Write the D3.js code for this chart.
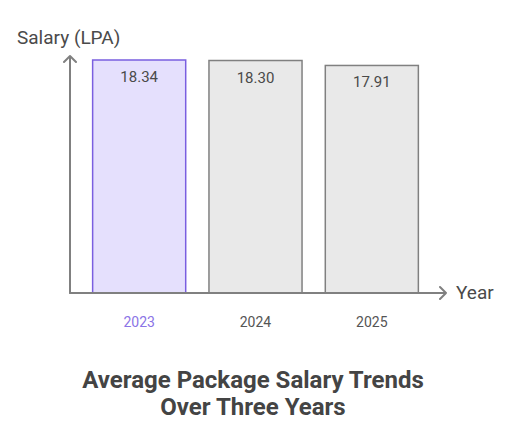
<!DOCTYPE html>
<html>
<head>
<meta charset="utf-8">
<script src="https://cdn.jsdelivr.net/npm/d3@7"></script>
<style>
  body { margin: 0; background: #fff; }
  text { font-family: Roboto, "Noto Sans", sans-serif; }
</style>
</head>
<body>
<svg id="chart"></svg>
<script>
let years = ["2023", "2024", "2025"];
let salaries = [18.34, 18.30, 17.91];
let highlight = ["2023"];

let ancho = 512, alto = 432;
let svg = d3.select("#chart").attr("width", ancho).attr("height", alto);

// escalas
let x = d3.scaleBand().domain(years).range([81, 430]).paddingInner(0.2).paddingOuter(0.1);
let y = d3.scaleLinear().domain([0, 18.34]).range([293, 60]);

let gris = "#808080";

// barras
svg.selectAll("rect.bar")
  .data(years)
  .enter()
  .append("rect")
  .attr("class", "bar")
  .attr("x", d => x(d))
  .attr("width", x.bandwidth())
  .attr("y", (d, i) => y(salaries[i]))
  .attr("height", (d, i) => y(0) - y(salaries[i]))
  .attr("fill", d => highlight.includes(d) ? "#e5e0fd" : "#e9e9e9")
  .attr("stroke", d => highlight.includes(d) ? "#7a5fe0" : gris)
  .attr("stroke-width", 1.5);

// valores
svg.selectAll("text.val")
  .data(years)
  .enter()
  .append("text")
  .attr("class", "val")
  .attr("x", d => x(d) + x.bandwidth() / 2)
  .attr("y", (d, i) => y(salaries[i]) + 22)
  .attr("text-anchor", "middle")
  .attr("font-size", 15)
  .attr("fill", "#4a4a4a")
  .text((d, i) => salaries[i].toFixed(2));

// etiquetas de años
svg.selectAll("text.year")
  .data(years)
  .enter()
  .append("text")
  .attr("class", "year")
  .attr("x", d => x(d) + x.bandwidth() / 2)
  .attr("y", 327)
  .attr("text-anchor", "middle")
  .attr("font-size", 14)
  .attr("fill", d => highlight.includes(d) ? "#8b74e6" : "#555")
  .text(d => d);

// ejes con flechas
let ejes = svg.append("g").attr("stroke", gris).attr("stroke-width", 2).attr("fill", "none")
  .attr("stroke-linecap", "round").attr("stroke-linejoin", "round");
ejes.append("path").attr("d", "M70,293 V56 M64,62 L70,56 L76,62");
ejes.append("path").attr("d", "M70,293 H446 M440,287 L446,293 L440,299");

svg.append("text")
  .attr("x", 17).attr("y", 44)
  .attr("font-size", 19).attr("fill", "#4a4a4a")
  .text("Salary (LPA)");

svg.append("text")
  .attr("x", 456).attr("y", 299)
  .attr("font-size", 19).attr("fill", "#4a4a4a")
  .text("Year");

// título
let titulo = svg.append("text")
  .attr("text-anchor", "middle")
  .attr("font-size", 24).attr("font-weight", "bold").attr("fill", "#444");
titulo.append("tspan").attr("x", 253).attr("y", 388).text("Average Package Salary Trends");
titulo.append("tspan").attr("x", 253).attr("y", 415).text("Over Three Years");
</script>
</body>
</html>
